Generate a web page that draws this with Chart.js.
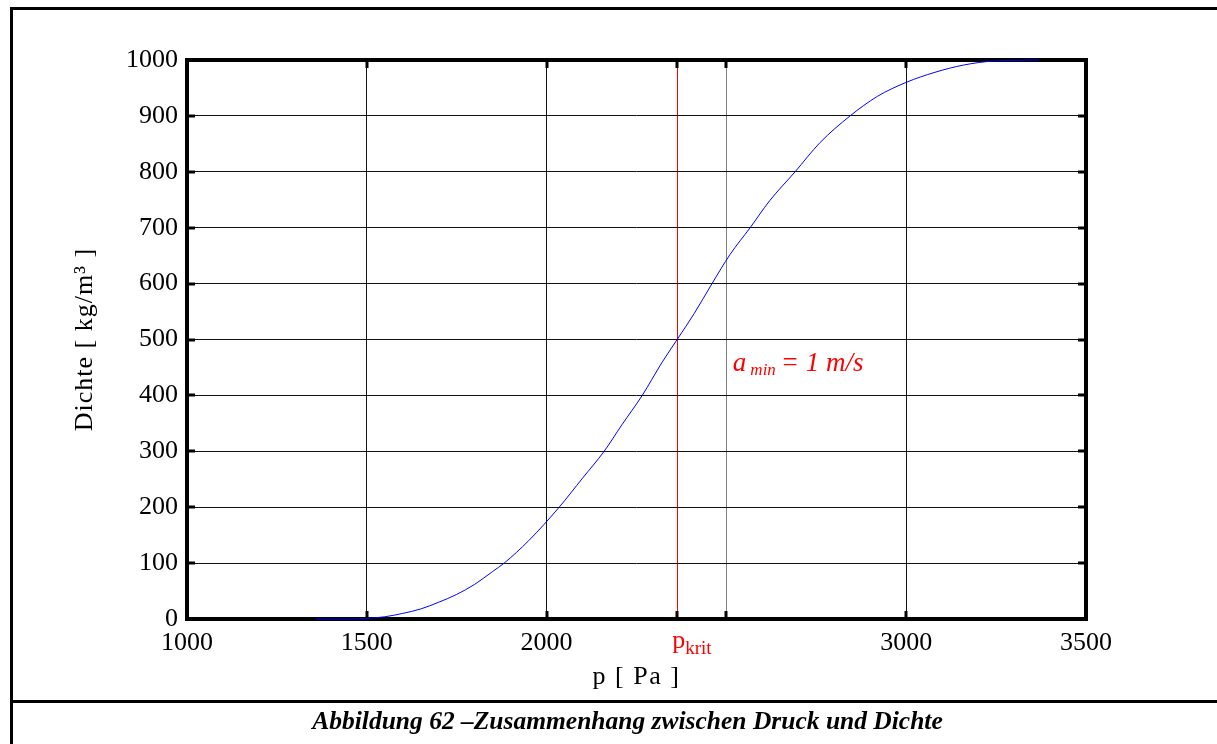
<!DOCTYPE html>
<html lang="de">
<head>
<meta charset="utf-8">
<title>Zusammenhang zwischen Druck und Dichte</title>
<script src="https://cdn.jsdelivr.net/npm/chart.js@4.4.1/dist/chart.umd.min.js"></script>
<style>
  html, body { margin: 0; padding: 0; background: #fff; }
  #wrap { position: relative; width: 1217px; height: 744px; overflow: hidden; }
  #c { position: absolute; left: 0; top: 0; }
  .rule { position: absolute; background: #000; }
  #caption {
    position: absolute; left: 10px; width: 1235px; top: 706px;
    text-align: center;
    font-family: 'Liberation Serif', 'Times New Roman', serif;
    font-weight: bold; font-style: italic; font-size: 25.5px; color: #000;
  }
</style>
</head>
<body>
<div id="wrap">
  <canvas id="c" width="1217" height="744"></canvas>
  <div class="rule" style="left:10px; top:7px; width:1207px; height:3px;"></div>
  <div class="rule" style="left:10px; top:7px; width:3px; height:737px;"></div>
  <div class="rule" style="left:10px; top:700px; width:1207px; height:3px;"></div>
  <div id="caption">Abbildung 62 –Zusammenhang zwischen Druck und Dichte</div>
</div>
<script>
// Pressure p [Pa] and density [kg/m³] along the curve
const pressure = [1360, 1450, 1500, 1550, 1600, 1650, 1700, 1750, 1800, 1850, 1882, 1950,
                  2035, 2100, 2160, 2210, 2266, 2320, 2363, 2410, 2460, 2510, 2566, 2620,
                  2691, 2760, 2844, 2920, 3000, 3080, 3160, 3240, 3370];
const density  = [0, 0, 1, 4, 10, 18, 30, 44, 62, 85, 100, 140,
                  200, 252, 300, 348, 400, 458, 500, 546, 600, 652, 700, 748,
                  800, 852, 900, 935, 960, 978, 991, 998, 1000];

// Critical pressure, marked on the x axis
const pKrit = 2363;
// Tick values on the axes (2500 keeps its grid line but has no label)
const xTicks = [1000, 1500, 2000, pKrit, 2500, 3000, 3500];
const xTickLabels = ['1000', '1500', '2000', '', '', '3000', '3500'];
const yTicks = [0, 100, 200, 300, 400, 500, 600, 700, 800, 900, 1000];

// Texts
const xTitle = 'p [ Pa ]';
const yTitle = 'Dichte [ kg/m\u00B3 ]';
const noteAt = { p: 2518, rho: 460 };

const serif = "'Liberation Serif', 'Times New Roman', serif";

const points = pressure.map((p, i) => ({ x: p, y: density[i] }));

// heavy plot box and inward tick marks, drawn beneath the curve
const plotFrame = {
  id: 'plotFrame',
  beforeDatasetsDraw(chart) {
    const { ctx, chartArea: a, scales: { x, y } } = chart;
    ctx.save();
    ctx.strokeStyle = '#000';
    ctx.lineWidth = 3;
    ctx.beginPath();
    xTicks.forEach(v => {
      const px = Math.round(x.getPixelForValue(v));
      ctx.moveTo(px, a.bottom); ctx.lineTo(px, a.bottom - 8);
      ctx.moveTo(px, a.top); ctx.lineTo(px, a.top + 8);
    });
    yTicks.forEach(v => {
      const py = Math.round(y.getPixelForValue(v));
      ctx.moveTo(a.left, py); ctx.lineTo(a.left + 8, py);
      ctx.moveTo(a.right, py); ctx.lineTo(a.right - 8, py);
    });
    ctx.stroke();
    ctx.lineWidth = 4;
    ctx.strokeRect(a.left, a.top, a.right - a.left, a.bottom - a.top);
    ctx.restore();
  }
};

// p_krit label, axis titles and the note
const labels = {
  id: 'labels',
  afterDraw(chart) {
    const { ctx, chartArea: a, scales: { x, y } } = chart;
    ctx.save();

    const kx = x.getPixelForValue(pKrit);
    ctx.fillStyle = '#ff0000';
    ctx.textBaseline = 'alphabetic';
    ctx.textAlign = 'left';
    ctx.font = '26px ' + serif;
    const wp = ctx.measureText('p').width;
    const startX = kx - 5;
    ctx.fillText('p', startX, 648);
    ctx.font = '19px ' + serif;
    ctx.fillText('krit', startX + wp, 654);

    ctx.fillStyle = '#000';
    ctx.font = '26px ' + serif;
    ctx.letterSpacing = '1.5px';
    ctx.textAlign = 'center';
    ctx.textBaseline = 'middle';
    ctx.fillText(xTitle, (a.left + a.right) / 2, 677);
    ctx.letterSpacing = '1px';
    ctx.save();
    ctx.translate(85, (a.top + a.bottom) / 2);
    ctx.rotate(-Math.PI / 2);
    ctx.fillText(yTitle, 0, 0);
    ctx.restore();
    ctx.letterSpacing = '0px';

    const nx = x.getPixelForValue(noteAt.p);
    const ny = y.getPixelForValue(noteAt.rho);
    ctx.fillStyle = '#ff0000';
    ctx.textAlign = 'left';
    ctx.textBaseline = 'alphabetic';
    ctx.font = 'italic 27px ' + serif;
    ctx.fillText('a', nx, ny + 9);
    let cx = nx + ctx.measureText('a').width + 4;
    ctx.font = 'italic 17px ' + serif;
    ctx.fillText('min', cx, ny + 13);
    cx += ctx.measureText('min').width + 5;
    ctx.font = 'italic 27px ' + serif;
    ctx.fillText('= 1 m/s', cx, ny + 9);

    ctx.restore();
  }
};

new Chart(document.getElementById('c'), {
  type: 'line',
  data: {
    datasets: [{
      data: points,
      borderColor: '#0000ff',
      borderWidth: 1,
      pointRadius: 0,
      fill: false,
      clip: 2,
      cubicInterpolationMode: 'monotone'
    }]
  },
  options: {
    responsive: false,
    animation: false,
    devicePixelRatio: 1,
    layout: { padding: { left: 0, top: 60, right: 131, bottom: 0 } },
    plugins: { legend: { display: false }, tooltip: { enabled: false } },
    scales: {
      x: {
        type: 'linear',
        min: 1000, max: 3500,
        afterFit(scale) { scale.height = 125; },
        afterBuildTicks(scale) { scale.ticks = xTicks.map(v => ({ value: v })); },
        grid: {
          drawTicks: false,
          lineWidth: 1,
          color(ctx) {
            const v = ctx.tick && ctx.tick.value;
            if (v === pKrit) return '#ff0000';
            if (v === 2500) return '#808080';
            return '#111';
          }
        },
        border: { display: false },
        ticks: {
          padding: 9,
          color: '#000',
          maxRotation: 0,
          autoSkip: false,
          font: { family: serif, size: 26 },
          callback(value) {
            const i = xTicks.indexOf(value);
            return i >= 0 ? xTickLabels[i] : '';
          }
        }
      },
      y: {
        min: 0, max: 1000,
        afterFit(scale) { scale.width = 187; },
        afterBuildTicks(scale) { scale.ticks = yTicks.map(v => ({ value: v })); },
        grid: { drawTicks: false, lineWidth: 1, color: '#111' },
        border: { display: false },
        ticks: {
          padding: 9,
          color: '#000',
          autoSkip: false,
          font: { family: serif, size: 26 },
          callback(value) { return String(value); }
        }
      }
    }
  },
  plugins: [plotFrame, labels]
});
</script>
</body>
</html>
